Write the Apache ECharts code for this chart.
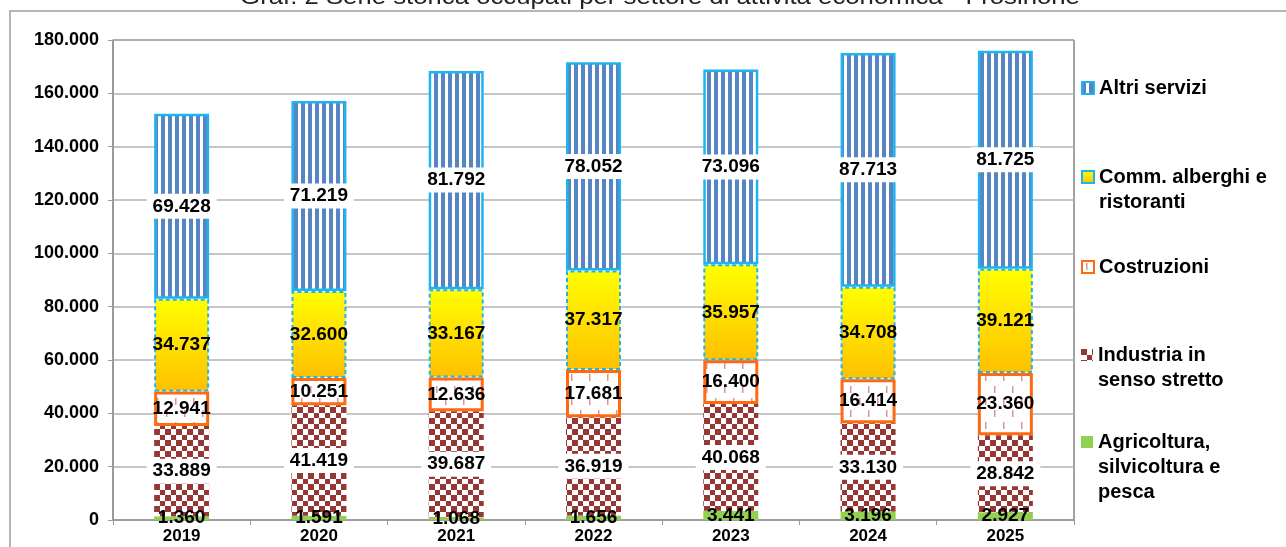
<!DOCTYPE html>
<html>
<head>
<meta charset="utf-8">
<script src="https://cdn.jsdelivr.net/npm/echarts@6/dist/echarts.min.js"></script>
<style>
  html, body { margin: 0; padding: 0; background: #fff; }
  #chart { width: 1286px; height: 547px; }
</style>
</head>
<body>
<div id="chart"></div>
<script>
// dati
const anni = ["2019", "2020", "2021", "2022", "2023", "2024", "2025"];
const agricoltura = [1360, 1591, 1068, 1656, 3441, 3196, 2927];
const industria = [33889, 41419, 39687, 36919, 40068, 33130, 28842];
const costruzioni = [12941, 10251, 12636, 17681, 16400, 16414, 23360];
const commercio = [34737, 32600, 33167, 37317, 35957, 34708, 39121];
const altriServizi = [69428, 71219, 81792, 78052, 73096, 87713, 81725];
const yTicks = [0, 20000, 40000, 60000, 80000, 100000, 120000, 140000, 160000, 180000];

const FONT = "'Liberation Sans', Arial, sans-serif";

// formato italiano con punto delle migliaia
function fmt(v) {
  return String(v).replace(/\B(?=(\d{3})+(?!\d))/g, ".");
}

// pattern su canvas
function makePattern(w, h, draw) {
  const c = document.createElement("canvas");
  c.width = w;
  c.height = h;
  draw(c.getContext("2d"));
  return { image: c, repeat: "repeat" };
}
const strisce = makePattern(7, 4, (ctx) => {
  ctx.fillStyle = "#fff";
  ctx.fillRect(0, 0, 7, 4);
  ctx.fillStyle = "#5685c4";
  ctx.fillRect(0, 0, 4, 4);
});
const scacchi = makePattern(11, 11, (ctx) => {
  ctx.fillStyle = "#fff";
  ctx.fillRect(0, 0, 11, 11);
  ctx.fillStyle = "#953735";
  ctx.fillRect(0, 0, 6, 6);
  ctx.fillRect(6, 6, 5, 5);
});
const trattini = makePattern(18, 24, (ctx) => {
  ctx.fillStyle = "#fff";
  ctx.fillRect(0, 0, 18, 24);
  ctx.fillStyle = "#d99694";
  ctx.fillRect(4, 2, 1.5, 7);
  ctx.fillRect(13, 14, 1.5, 7);
});
const giallo = new echarts.graphic.LinearGradient(0, 0, 0, 1, [
  { offset: 0, color: "#ffff00" },
  { offset: 1, color: "#ffc000" },
]);

const labelBase = {
  show: true,
  position: "inside",
  color: "#000",
  fontFamily: FONT,
  fontWeight: "bold",
  fontSize: 19,
  formatter: (p) => fmt(p.value),
};

// legenda: prima riga allineata all'icona
const legendItems = [
  { name: "Altri servizi", lines: ["Altri servizi"], y: 88 },
  { name: "Comm. alberghi e ristoranti", lines: ["Comm. alberghi e", "ristoranti"], y: 177 },
  { name: "Costruzioni", lines: ["Costruzioni"], y: 267 },
  { name: "Industria in senso stretto", lines: ["Industria in", "senso stretto"], y: 355 },
  { name: "Agricoltura, silvicoltura e pesca", lines: ["Agricoltura,", "silvicoltura e", "pesca"], y: 442 },
];
const LH = 25;
const legends = legendItems.map((it) => {
  const n = it.lines.length;
  return {
    data: [it.name],
    left: 1081,
    top: it.y - ((2 * n - 1) * LH) / 2,
    padding: 0,
    icon: "rect",
    itemWidth: 12,
    itemHeight: 12,
    itemGap: 0,
    selectedMode: false,
    formatter: () => "\n".repeat(n - 1) + it.lines.join("\n"),
    textStyle: {
      fontFamily: FONT,
      fontWeight: "bold",
      fontSize: 20,
      lineHeight: LH,
      color: "#000",
    },
  };
});

const chart = echarts.init(document.getElementById("chart"), null, { renderer: "canvas" });

const option = {
  animation: false,
  backgroundColor: "#fff",
  graphic: [
    {
      type: "rect",
      shape: { x: 10, y: 11, width: 1400, height: 700 },
      style: { fill: "none", stroke: "#b5b5b5", lineWidth: 2 },
      silent: true,
      z: -1,
    },
    {
      // titolo (tagliato in alto come nell'originale)
      type: "text",
      x: 660,
      y: 9,
      scaleX: 1.17,
      style: {
        text: "Graf. 2 Serie storica occupati per settore di attività economica - Frosinone",
        font: "normal 22px " + FONT,
        fill: "#222",
        align: "center",
        verticalAlign: "bottom",
      },
      silent: true,
    },
  ],
  legend: legends,
  grid: {
    left: 113,
    right: 212,
    top: 40,
    bottom: 27,
    show: true,
    borderColor: "#444",
    borderWidth: 1,
  },
  xAxis: {
    type: "category",
    data: anni,
    axisLine: { lineStyle: { color: "#999", width: 1.5 } },
    axisTick: { show: true, length: 5, lineStyle: { color: "#999" } },
    axisLabel: {
      color: "#000",
      fontFamily: FONT,
      fontWeight: "bold",
      fontSize: 17,
      margin: 8,
    },
  },
  yAxis: {
    type: "value",
    min: yTicks[0],
    max: yTicks[yTicks.length - 1],
    interval: yTicks[1] - yTicks[0],
    axisLine: { show: true, lineStyle: { color: "#999", width: 1.5 } },
    axisTick: { show: true, length: 5, lineStyle: { color: "#999" } },
    splitLine: { lineStyle: { color: "#b3b3b3", width: 1.5 } },
    axisLabel: {
      color: "#000",
      fontFamily: FONT,
      fontWeight: "bold",
      fontSize: 18,
      margin: 14,
      formatter: (v) => fmt(v),
    },
  },
  series: [
    {
      name: "Agricoltura, silvicoltura e pesca",
      type: "bar",
      stack: "tot",
      barWidth: 55,
      data: agricoltura,
      itemStyle: { color: "#92d050" },
      label: { ...labelBase },
    },
    {
      name: "Industria in senso stretto",
      type: "bar",
      stack: "tot",
      data: industria,
      itemStyle: { color: scacchi },
      label: { ...labelBase, backgroundColor: "#fff", padding: [3, 6] },
    },
    {
      name: "Costruzioni",
      type: "bar",
      stack: "tot",
      data: costruzioni,
      itemStyle: { color: trattini, borderColor: "#ff6a10", borderWidth: 3 },
      label: { ...labelBase },
    },
    {
      name: "Comm. alberghi e ristoranti",
      type: "bar",
      stack: "tot",
      data: commercio,
      itemStyle: { color: giallo, borderColor: "#1eb4ee", borderWidth: 2, borderType: [4, 3] },
      label: { ...labelBase },
    },
    {
      name: "Altri servizi",
      type: "bar",
      stack: "tot",
      data: altriServizi,
      itemStyle: { color: strisce, borderColor: "#1eb4ee", borderWidth: 2.5 },
      label: { ...labelBase, backgroundColor: "#fff", padding: [3, 6] },
    },
  ],
};

chart.setOption(option);
</script>
</body>
</html>
